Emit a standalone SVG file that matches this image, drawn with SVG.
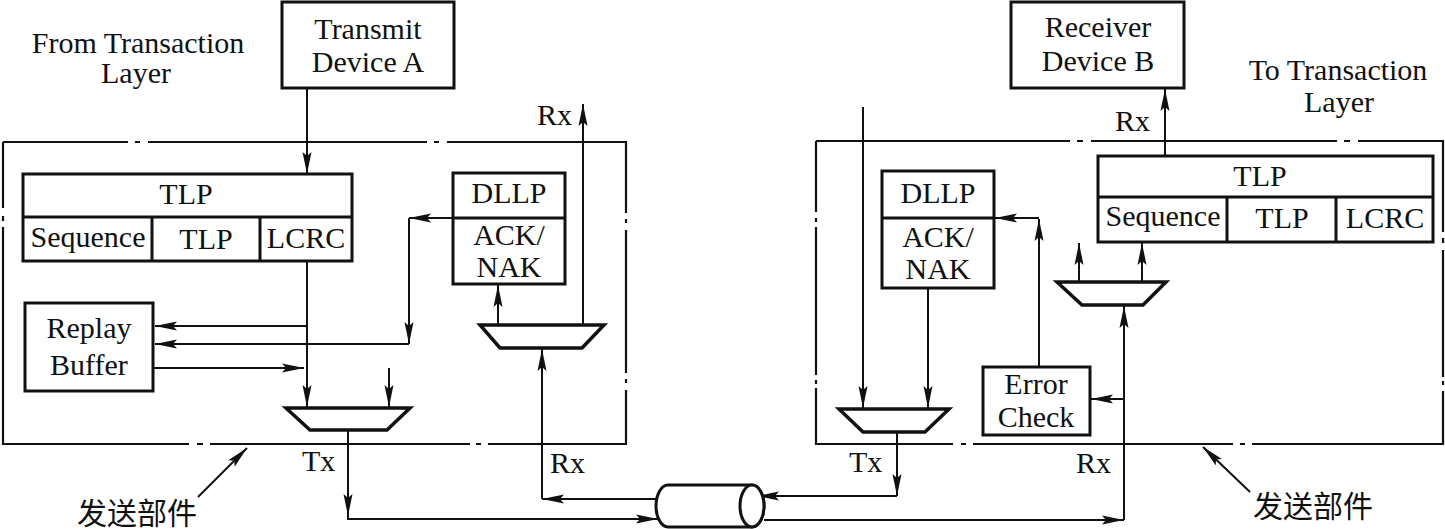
<svg xmlns="http://www.w3.org/2000/svg" width="1445" height="529" viewBox="0 0 1445 529">
<style>
  text { font-family: "Liberation Serif", "Times New Roman", serif; font-size: 30px; fill: #111; }
  .c { text-anchor: middle; }
  .cjk { font-family: "Liberation Serif", "Noto Sans CJK SC", sans-serif; font-size: 30px; }
  .box { fill: #fff; stroke: #111; stroke-width: 3; }
  .enc { fill: none; stroke: #111; stroke-width: 2.2; }
  .mux { fill: #fff; stroke: #111; stroke-width: 3.5; stroke-linejoin: miter; }
  .ln { fill: none; stroke: #111; stroke-width: 2; }
  .arr { fill: none; stroke: #111; stroke-width: 2; marker-end: url(#ah); }
</style>
<defs>
  <marker id="ah" markerUnits="userSpaceOnUse" markerWidth="24" markerHeight="12" refX="22" refY="5" orient="auto" viewBox="0 0 24 10">
    <path d="M0,0.5 L22,5 L0,9.5 L4,5 Z" fill="#111"/>
  </marker>
</defs>

<g id="enclosures">
  <path class="enc" d="M3,142 H128 M135,142 H140 M148,142 H427 M434,142 H439 M447,142 H626 V213 M626,219 V223 M626,230 V373 M626,379 V383 M626,390 V444 H488 M481,444 H476 M470,444 H210 M203,444 H197 M189,444 H3 V227 M3,221 V216 M3,208 V142"/>
  <path class="enc" d="M816,141 H1070 M1077,141 H1083 M1091,141 H1337 M1344,141 H1350 M1358,141 H1443 V232 M1443,238 V243 M1443,250 V377 M1443,381 V385 M1443,391 V444 H1252 M1245,444 H1240 M1233,444 H973 M966,444 H961 M953,444 H816 V388 M816,384 V380 M816,375 V227 M816,222 V218 M816,212 V141"/>
</g>

<g id="connectors">
  <!-- left side -->
  <path class="arr" d="M307,88 L307,174"/>
  <path class="arr" d="M307,261 L307,407"/>
  <path class="arr" d="M307,326 L155,326"/>
  <path class="arr" d="M453,218 L409,218"/>
  <path class="arr" d="M409,218 L409,344"/>
  <path class="arr" d="M409,344 L155,344"/>
  <path class="arr" d="M153,368 L304,368"/>
  <path class="arr" d="M389,368 L389,407"/>
  <path class="arr" d="M348,431 L348,516"/>
  <path class="arr" d="M348,516 L348,519 L658,519"/>
  <path class="arr" d="M656,499 L542,499"/>
  <path class="arr" d="M542,499 L542,349"/>
  <path class="arr" d="M498,325 L498,285"/>
  <path class="arr" d="M583,325 L583,104"/>
  <!-- right side -->
  <path class="arr" d="M863,107 L863,408"/>
  <path class="arr" d="M928,288 L928,408"/>
  <path class="arr" d="M897,432 L897,496"/>
  <path class="arr" d="M897,496 L757,496"/>
  <path class="arr" d="M764,520 L1124,520"/>
  <path class="arr" d="M1124,520 L1124,306"/>
  <path class="arr" d="M1124,399 L1091,399"/>
  <path class="arr" d="M1039,367 L1039,219"/>
  <path class="arr" d="M1039,218 L995,218"/>
  <path class="arr" d="M1079,282 L1079,243"/>
  <path class="arr" d="M1142,282 L1142,243"/>
  <path class="arr" d="M1165,156 L1165,89"/>
  <!-- label pointers -->
  <path class="arr" d="M198,497 L247,448"/>
  <path class="arr" d="M1250,492 L1203,447"/>
</g>

<g id="transmit-device-a">
  <rect class="box" x="282" y="2" width="172" height="86"/>
  <text class="c" x="368" y="39">Transmit</text>
  <text class="c" x="368" y="72">Device A</text>
</g>
<g id="from-transaction-label">
  <text class="c" x="138" y="53">From Transaction</text>
  <text class="c" x="136" y="83">Layer</text>
</g>
<g id="left-tlp">
  <rect class="box" x="23" y="174" width="329" height="87"/>
  <path class="ln" style="stroke-width:3" d="M23,217 H352 M152,217 V261 M260,217 V261"/>
  <text class="c" x="186" y="204">TLP</text>
  <text class="c" x="88" y="247">Sequence</text>
  <text class="c" x="206" y="249">TLP</text>
  <text class="c" x="306" y="248">LCRC</text>
</g>
<g id="replay-buffer">
  <rect class="box" x="25" y="303" width="128" height="88"/>
  <text class="c" x="89" y="338">Replay</text>
  <text class="c" x="89" y="375">Buffer</text>
</g>
<g id="left-dllp">
  <rect class="box" x="453" y="173" width="112" height="111"/>
  <path class="ln" style="stroke-width:3" d="M453,218 H565"/>
  <text class="c" x="509" y="203">DLLP</text>
  <text class="c" x="509" y="245">ACK/</text>
  <text class="c" x="509" y="277">NAK</text>
</g>
<g id="left-tx-mux">
  <polygon class="mux" points="286,408 410,408 387,430 310,430"/>
</g>
<g id="left-rx-mux">
  <polygon class="mux" points="480,325 604,325 582,348 500,348"/>
</g>
<g id="left-labels">
  <text x="537" y="125">Rx</text>
  <text x="302" y="471">Tx</text>
  <text x="550" y="473">Rx</text>
  <text class="cjk" x="77" y="524">发送部件</text>
</g>

<g id="link">
  <path class="box" d="M668,485 L752,485 A12,21 0 0 1 752,527 L668,527 A12,21 0 0 1 668,485 Z"/>
  <ellipse class="box" cx="752" cy="506" rx="12" ry="21"/>
</g>

<g id="receiver-device-b">
  <rect class="box" x="1011" y="2" width="173" height="86"/>
  <text class="c" x="1098" y="37">Receiver</text>
  <text class="c" x="1098" y="71">Device B</text>
</g>
<g id="to-transaction-label">
  <text class="c" x="1338" y="80">To Transaction</text>
  <text class="c" x="1339" y="112">Layer</text>
</g>
<g id="right-tlp">
  <rect class="box" x="1098" y="156" width="335" height="86"/>
  <path class="ln" style="stroke-width:3" d="M1098,197 H1433 M1227,197 V242 M1336,197 V242"/>
  <text class="c" x="1260" y="186">TLP</text>
  <text class="c" x="1163" y="226">Sequence</text>
  <text class="c" x="1282" y="228">TLP</text>
  <text class="c" x="1385" y="228">LCRC</text>
</g>
<g id="right-dllp">
  <rect class="box" x="882" y="171" width="112" height="117"/>
  <path class="ln" style="stroke-width:3" d="M882,218 H994"/>
  <text class="c" x="938" y="203">DLLP</text>
  <text class="c" x="938" y="247">ACK/</text>
  <text class="c" x="938" y="279">NAK</text>
</g>
<g id="error-check">
  <rect class="box" x="983" y="367" width="107" height="68"/>
  <text class="c" x="1036" y="394">Error</text>
  <text class="c" x="1036" y="427">Check</text>
</g>
<g id="right-tx-mux">
  <polygon class="mux" points="839,409 949,409 925,432 863,432"/>
</g>
<g id="right-rx-mux">
  <polygon class="mux" points="1057,282 1166,282 1143,305 1082,305"/>
</g>
<g id="right-labels">
  <text x="1115" y="131">Rx</text>
  <text x="849" y="472">Tx</text>
  <text x="1076" y="473">Rx</text>
  <text class="cjk" x="1253" y="517">发送部件</text>
</g>
</svg>
